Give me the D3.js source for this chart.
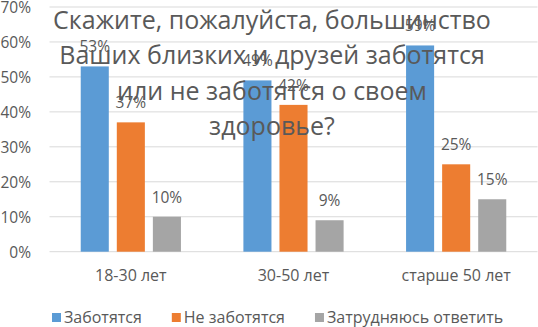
<!DOCTYPE html>
<html>
<head>
<meta charset="utf-8">
<script src="https://cdn.jsdelivr.net/npm/d3@7"></script>
<style>
  body { margin: 0; background: #fff; }
  text { font-family: "Open Sans", sans-serif; fill: #595959; }
</style>
</head>
<body>
<div id="canvas"></div>
<script>
// chart data
const categories = ["18-30 лет", "30-50 лет", "старше 50 лет"];
const seriesNames = ["Заботятся", "Не заботятся", "Затрудняюсь ответить"];
const caring = [53, 49, 59];
const notCaring = [37, 42, 25];
const unsure = [10, 9, 15];
const yTicks = [0, 10, 20, 30, 40, 50, 60, 70];
const titleLines = [
    "Скажите, пожалуйста, большинство",
    "Ваших близких и друзей заботятся",
    "или не заботятся о своем",
    "здоровье?"
];

const colors = ["#5B9BD5", "#ED7D31", "#A5A5A5"];
const width = 538, height = 327;
const margin = { left: 49.5, right: 0.5, top: 7, bottom: 75.3 };

const values = [caring, notCaring, unsure];

const svg = d3.select("#canvas")
    .append("svg")
    .attr("width", width)
    .attr("height", height);

const x = d3.scaleBand()
    .domain(categories)
    .range([margin.left, width - margin.right]);

// bars sit in the middle ~62% of each category band
const xSeries = d3.scaleBand()
    .domain(seriesNames)
    .range([x.bandwidth() * 0.192, x.bandwidth() * 0.808])
    .paddingInner(0.222);

const y = d3.scaleLinear()
    .domain([0, 70])
    .range([height - margin.bottom, margin.top]);

// gridlines
svg.append("g")
    .selectAll("line")
    .data(yTicks)
    .join("line")
    .attr("x1", margin.left)
    .attr("x2", width - margin.right)
    .attr("y1", d => y(d))
    .attr("y2", d => y(d))
    .attr("stroke", "#d9d9d9")
    .attr("stroke-width", 1);

// y tick labels
svg.append("g")
    .selectAll("text")
    .data(yTicks)
    .join("text")
    .attr("x", 31)
    .attr("y", d => y(d) + 6)
    .attr("text-anchor", "end")
    .attr("font-size", 15.5)
    .text(d => d + "%");

// bars + labels
seriesNames.forEach((name, si) => {
    const g = svg.append("g");
    g.selectAll("rect")
        .data(values[si])
        .join("rect")
        .attr("x", (d, i) => x(categories[i]) + xSeries(name))
        .attr("y", d => y(d))
        .attr("width", xSeries.bandwidth())
        .attr("height", d => y(0) - y(d))
        .attr("fill", colors[si]);

    g.selectAll("text")
        .data(values[si])
        .join("text")
        .attr("x", (d, i) => x(categories[i]) + xSeries(name) + xSeries.bandwidth() / 2)
        .attr("y", d => y(d) - 14)
        .attr("text-anchor", "middle")
        .attr("font-size", 15.5)
        .text(d => d + "%");
});

// category labels
svg.append("g")
    .selectAll("text")
    .data(categories)
    .join("text")
    .attr("x", d => x(d) + x.bandwidth() / 2)
    .attr("y", 281)
    .attr("text-anchor", "middle")
    .attr("font-size", 16)
    .text(d => d);

// legend
const legend = svg.append("g");
let lx = 52;
seriesNames.forEach((name, si) => {
    legend.append("rect")
        .attr("x", lx)
        .attr("y", 313)
        .attr("width", 9)
        .attr("height", 9)
        .attr("fill", colors[si]);
    const t = legend.append("text")
        .attr("x", lx + 12)
        .attr("y", 322.5)
        .attr("font-size", 16)
        .text(name);
    lx += 12 + t.node().getComputedTextLength() + 30;
});

// title drawn last so it sits over bars
svg.append("g")
    .selectAll("text")
    .data(titleLines)
    .join("text")
    .attr("x", width / 2 + 3)
    .attr("y", (d, i) => 28.5 + i * 35.5)
    .attr("text-anchor", "middle")
    .attr("font-size", 25)
    .text(d => d);
</script>
</body>
</html>
